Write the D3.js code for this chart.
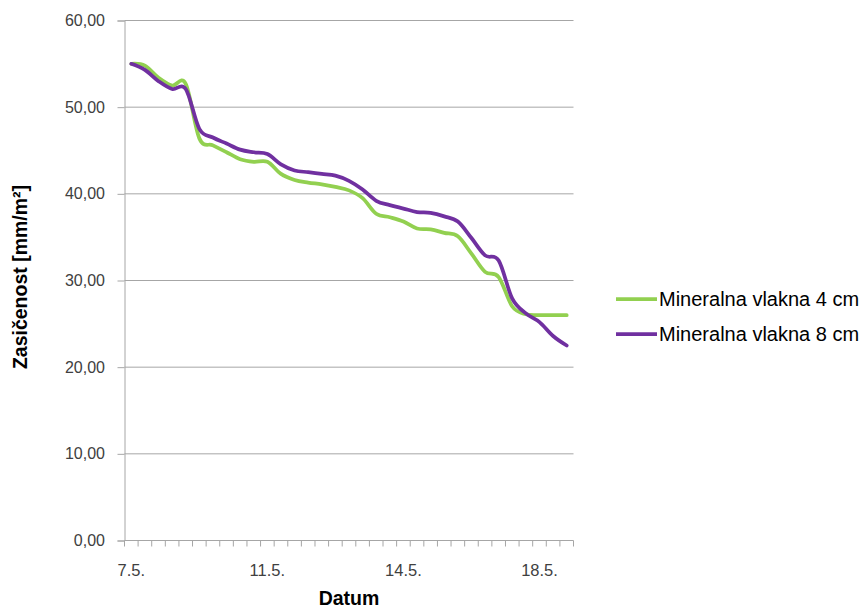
<!DOCTYPE html>
<html>
<head>
<meta charset="utf-8">
<script src="https://cdn.jsdelivr.net/npm/d3@7"></script>
<style>
  html, body { margin: 0; padding: 0; background: #fff; }
  svg { display: block; }
  text { font-family: "Liberation Sans", Arial, sans-serif; }
</style>
</head>
<body>
<svg id="chart" width="865" height="608"></svg>
<script>
// ---- data ----
const seriesNames = ["Mineralna vlakna 4 cm", "Mineralna vlakna 8 cm"];
const series4cm = [55.0, 54.8, 53.4, 52.5, 52.7, 46.4, 45.6, 44.8, 44.0, 43.7, 43.7, 42.3, 41.6, 41.3, 41.1, 40.8, 40.4, 39.5, 37.7, 37.3, 36.8, 36.0, 35.9, 35.5, 35.1, 33.1, 31.0, 30.4, 27.0, 26.1, 26.0, 26.0, 26.0];
const series8cm = [55.0, 54.3, 53.0, 52.1, 52.1, 47.5, 46.5, 45.8, 45.1, 44.8, 44.6, 43.4, 42.7, 42.5, 42.3, 42.1, 41.5, 40.5, 39.2, 38.7, 38.3, 37.9, 37.8, 37.4, 36.8, 34.9, 32.9, 32.3, 27.9, 26.2, 25.2, 23.6, 22.5];
const dateLabels = ["7.5.", "11.5.", "14.5.", "18.5."];
const dateLabelIndex = [0, 10, 20, 30];
const yTicks = [0, 10, 20, 30, 40, 50, 60];
const colors = ["#92D050", "#7030A0"];

// ---- layout ----
const svg = d3.select("#chart");
const mLeft = 124.5, mRight = 573.5, mTop = 20.5, mBottom = 540.5;
const categories = series4cm.map((d, i) => i);
const tickFont = "'Open Sans', 'Liberation Sans', Arial, sans-serif";

const x = d3.scaleBand().domain(categories).range([mLeft, mRight]).padding(0);
const y = d3.scaleLinear().domain([0, 60]).range([mBottom, mTop]);
const fmt = v => d3.format(".2f")(v).replace(".", ",");

// gridlines + y ticks
const yAxis = d3.axisLeft(y).tickValues(yTicks).tickSize(7).tickFormat(fmt);
const gy = svg.append("g").attr("transform", `translate(${mLeft},0)`).call(yAxis);
gy.select(".domain").attr("stroke", "#a6a6a6");
gy.selectAll(".tick line").attr("stroke", "#a6a6a6");
gy.selectAll(".tick text").attr("font-size", 16).attr("fill", "#404040")
  .attr("font-family", tickFont).attr("x", -19.5);

svg.append("g").selectAll("line").data(yTicks.filter(v => v > 0)).join("line")
  .attr("x1", mLeft).attr("x2", mRight)
  .attr("y1", d => y(d)).attr("y2", d => y(d))
  .attr("stroke", "#a6a6a6").attr("stroke-width", 1);

// x axis
const boundaries = categories.map(i => x(i)).concat([mRight]);
const gx = svg.append("g");
gx.append("line").attr("x1", mLeft).attr("x2", mRight).attr("y1", mBottom).attr("y2", mBottom)
  .attr("stroke", "#a6a6a6");
gx.selectAll("line.tk").data(boundaries).join("line").attr("class", "tk")
  .attr("x1", d => d).attr("x2", d => d).attr("y1", mBottom).attr("y2", mBottom + 6)
  .attr("stroke", "#a6a6a6");
gx.selectAll("text").data(dateLabelIndex).join("text")
  .attr("x", d => x(d) + x.bandwidth() / 2)
  .attr("y", 576)
  .attr("text-anchor", "middle")
  .attr("font-size", 16.5).attr("fill", "#404040")
  .attr("font-family", tickFont)
  .text((d, i) => dateLabels[i]);

// lines
const line = d3.line()
  .x((d, i) => x(i) + x.bandwidth() / 2)
  .y(d => y(d))
  .curve(d3.curveCardinal.tension(0));
[series4cm, series8cm].forEach((s, k) => {
  svg.append("path").datum(s).attr("d", line)
    .attr("fill", "none").attr("stroke", colors[k]).attr("stroke-width", 3.75)
    .attr("stroke-linejoin", "round").attr("stroke-linecap", "round");
});

// axis titles
svg.append("text").attr("x", 349).attr("y", 605).attr("text-anchor", "middle")
  .attr("font-size", 19.5).attr("font-weight", "bold").attr("fill", "#000").text("Datum");
svg.append("text").attr("transform", "translate(27,277) rotate(-90)")
  .attr("text-anchor", "middle").attr("font-size", 19.5).attr("font-weight", "bold")
  .attr("fill", "#000").text("Zasičenost [mm/m²]");

// legend
const legendY = [299, 334];
seriesNames.forEach((n, k) => {
  const g = svg.append("g");
  g.append("line").attr("x1", 616).attr("x2", 657).attr("y1", legendY[k]).attr("y2", legendY[k])
    .attr("stroke", colors[k]).attr("stroke-width", 3.75);
  g.append("text").attr("x", 659).attr("y", legendY[k] + 7).attr("font-size", 20)
    .attr("fill", "#000").text(n);
});
</script>
</body>
</html>
